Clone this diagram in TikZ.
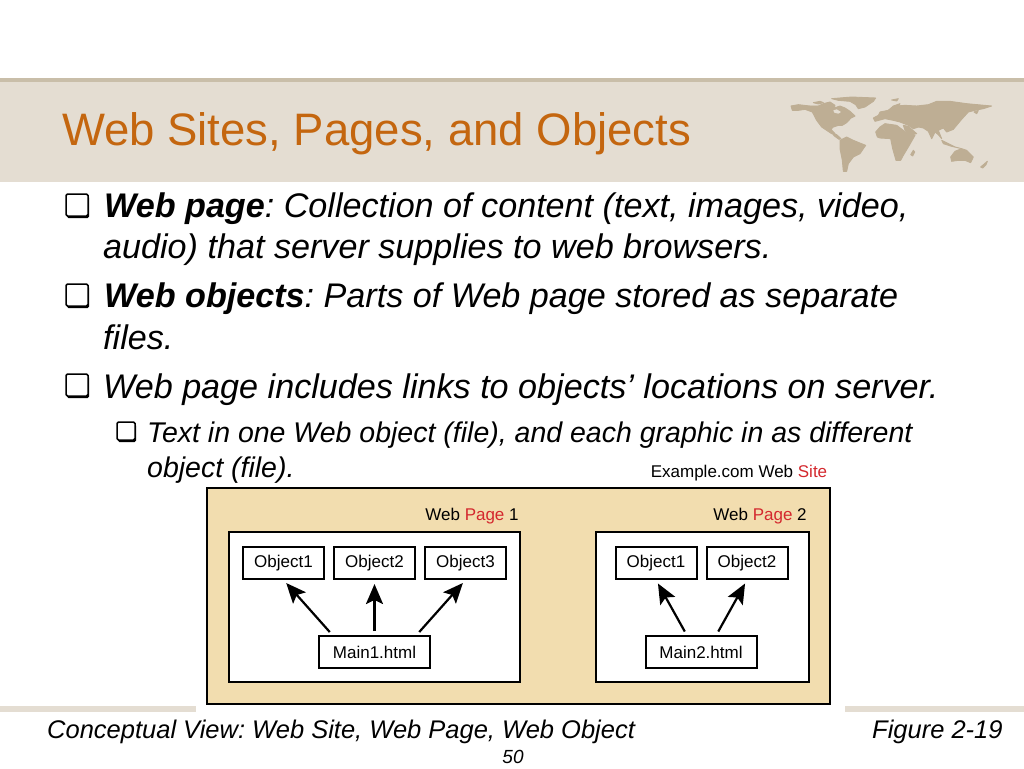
\documentclass[tikz,border=0pt]{standalone}
\usepackage{fontspec}
\setmainfont{Liberation Sans}
\usetikzlibrary{shadows,arrows.meta}
\definecolor{bandc}{HTML}{E4DDD2}
\definecolor{rulec}{HTML}{C9BEA9}
\definecolor{mapc}{HTML}{BEAE94}
\definecolor{titlec}{HTML}{C4660F}
\definecolor{sitec}{HTML}{F2DDAF}
\definecolor{redc}{HTML}{D4282E}
\tikzset{
 line/.style={anchor=base west, inner sep=0pt, font=\fontsize{34.15}{34}\selectfont\itshape},
 subline/.style={anchor=base west, inner sep=0pt, font=\fontsize{28.5}{28}\selectfont\itshape},
 foot/.style={anchor=base west, inner sep=0pt, font=\fontsize{25.5}{25}\selectfont\itshape},
 small/.style={anchor=base, inner sep=0pt, font=\fontsize{17}{17}\selectfont},
 land/.style={fill=mapc, draw=mapc, line width=.9pt, line join=round},
 bullet/.style={draw, fill=white, rounded corners=1.5pt, line width=1.5pt, inner sep=0pt, minimum size=#1, drop shadow={shadow xshift=1pt, shadow yshift=-2pt, fill=black, opacity=1}},
 obj/.style={draw, line width=2pt, fill=white, inner sep=0pt, minimum width=#1, minimum height=32pt, font=\fontsize{17}{17}\selectfont},
 page/.style={draw, line width=2pt, fill=white},
 link/.style={line width=2.2pt, -{Stealth[length=20pt,width=17pt,inset=4pt]}, shorten <=4pt, shorten >=4pt}
}
\frenchspacing
\begin{document}
\begin{tikzpicture}[x=1pt,y=-1pt]
\useasboundingbox (0,0) rectangle (1024,768);
\fill[white] (0,0) rectangle (1024,768);
% header band
\fill[bandc] (0,80) rectangle (1024,182);
\fill[rulec] (0,78) rectangle (1024,82);
\fill[bandc] (0,706) rectangle (1024,712);
\fill[white] (196,703) rectangle (845,712);
% world map, west
\begin{scope}[shift={(785,92)},x=.3333pt,y=-.3333pt]
\path[land] (18,42) -- (40,38) -- (75,42) -- (100,42) -- (115,35) -- (135,30) -- (150,40) -- (148,48) -- (165,42) -- (180,48) -- (195,58) -- (210,72) -- (198,78) -- (185,92) -- (172,100) -- (160,100) -- (145,105) -- (138,112) -- (150,125) -- (140,125) -- (125,115) -- (110,105) -- (95,85) -- (82,60) -- (60,52) -- (40,55) -- (22,55) -- cycle;
\path[land] (140,20) -- (200,15) -- (272,18) -- (265,28) -- (240,45) -- (220,50) -- (212,38) -- (195,28) -- (160,25) -- cycle;
\fill[bandc] (145,55) -- (155,52) -- (168,60) -- (160,65) -- (148,62) -- cycle;
\path[land] (140,122) -- (155,128) -- (168,140) -- (162,142) -- (148,132) -- cycle;
\path[land] (165,145) -- (185,135) -- (205,145) -- (222,152) -- (242,160) -- (225,185) -- (205,195) -- (190,215) -- (185,238) -- (175,238) -- (172,205) -- (165,170) -- cycle;
\path[land] (85,32) -- (105,28) -- (115,32) -- (100,36) -- cycle;
\end{scope}
% world map, east
\begin{scope}[shift={(880,92)},x=.3333pt,y=-.3333pt]
\path[land] (0,60) -- (25,55) -- (50,42) -- (75,40) -- (110,42) -- (145,38) -- (170,28) -- (210,28) -- (260,35) -- (335,42) -- (310,50) -- (285,55) -- (265,60) -- (245,82) -- (230,100) -- (220,112) -- (200,120) -- (190,108) -- (175,115) -- (185,140) -- (175,128) -- (165,120) -- (155,140) -- (145,118) -- (130,108) -- (115,105) -- (100,110) -- (85,100) -- (60,90) -- (40,85) -- (15,80) -- (-15,88) -- (-20,78) -- (-5,70) -- cycle;
\path[land] (-13,120) -- (0,105) -- (15,95) -- (50,100) -- (70,115) -- (90,130) -- (105,130) -- (85,165) -- (70,190) -- (62,205) -- (48,205) -- (38,170) -- (32,140) -- (0,138) -- (-8,135) -- cycle;
\path[land] (70,100) -- (85,103) -- (110,125) -- (90,130) -- (75,115) -- cycle;
\path[land] (25,55) -- (40,42) -- (60,35) -- (55,45) -- (40,55) -- cycle;
\path[land] (185,145) -- (205,155) -- (225,165) -- (245,170) -- (215,163) -- (190,155) -- cycle;
\path[land] (212,195) -- (225,178) -- (245,170) -- (260,175) -- (280,195) -- (272,212) -- (255,205) -- (235,205) -- (215,208) -- cycle;
\path[land] (92,188) -- (100,175) -- (104,180) -- (98,192) -- cycle;
\path[land] (302,225) -- (322,208) -- (318,218) -- (308,228) -- cycle;
\path[land] (282,60) -- (295,55) -- (290,65) -- cycle;
\path[land] (35,24) -- (55,20) -- (50,27) -- cycle;
\end{scope}
\node[anchor=base west, inner sep=0pt, text=titlec, font=\fontsize{45.5}{45}\selectfont] (title) at (62,145) {Web Sites, Pages, and Objects};
% bullets
\node[bullet=22pt] (bul1) at (77,205) {};
\node[bullet=22pt] (bul2) at (77,295) {};
\node[bullet=22pt] (bul3) at (77,385) {};
\node[bullet=18pt] (bul4) at (126,431) {};
\node[line] (txt1) at (104,217.5) {\textbf{Web page}: Collection of content (text, images, video,};
\node[line] (txt2) at (103,258.5) {audio) that server supplies to web browsers.};
\node[line] (txt3) at (104,307.5) {\textbf{Web objects}: Parts of Web page stored as separate};
\node[line] (txt4) at (103,349.5) {files.};
\node[line] (txt5) at (103,398.5) {Web page includes links to objects’ locations on server.};
\node[subline] (txt6) at (147,442.5) {Text in one Web object (file), and each graphic in as different};
\node[subline] (txt7) at (147,477.5) {object (file).};
% figure
\node[draw, line width=2pt, fill=sitec, minimum width=623pt, minimum height=216pt, inner sep=0pt] (site) at (518.5,596) {};
\node[page, minimum width=291pt, minimum height=150pt, inner sep=0pt] (page1) at (374,607) {};
\node[page, minimum width=213pt, minimum height=150pt, inner sep=0pt] (page2) at (702.5,607) {};
\node[small] (sitelab) at (739,477) {Example.com Web \textcolor{redc}{Site}};
\node[small] (lab1) at (472,520) {Web \textcolor{redc}{Page} 1};
\node[small] (lab2) at (760,520) {Web \textcolor{redc}{Page} 2};
\node[obj=81pt] (obja1) at (283.5,563) {Object1};
\node[obj=81pt] (obja2) at (374.5,563) {Object2};
\node[obj=81pt] (obja3) at (465.5,563) {Object3};
\node[obj=111pt] (main1) at (374.5,652) {Main1.html};
\node[obj=81pt] (objb1) at (656,563) {Object1};
\node[obj=81pt] (objb2) at (747,563) {Object2};
\node[obj=111pt] (main2) at (701,652) {Main2.html};
\draw[link] (main1.158) -- (obja1.south);
\draw[link] (main1.north) -- (obja2.south);
\draw[link] (main1.22) -- (obja3.south);
\draw[link] (main2.130) -- (objb1.south);
\draw[link] (main2.48) -- (objb2.south);
% footer
\node[foot] (foot1) at (47,738) {Conceptual View: Web Site, Web Page, Web Object};
\node[foot] (foot2) at (872,738) {Figure 2-19};
\node[anchor=base, inner sep=0pt, font=\fontsize{19}{19}\selectfont\itshape] (pagenum) at (513,763) {50};
\end{tikzpicture}
\end{document}
